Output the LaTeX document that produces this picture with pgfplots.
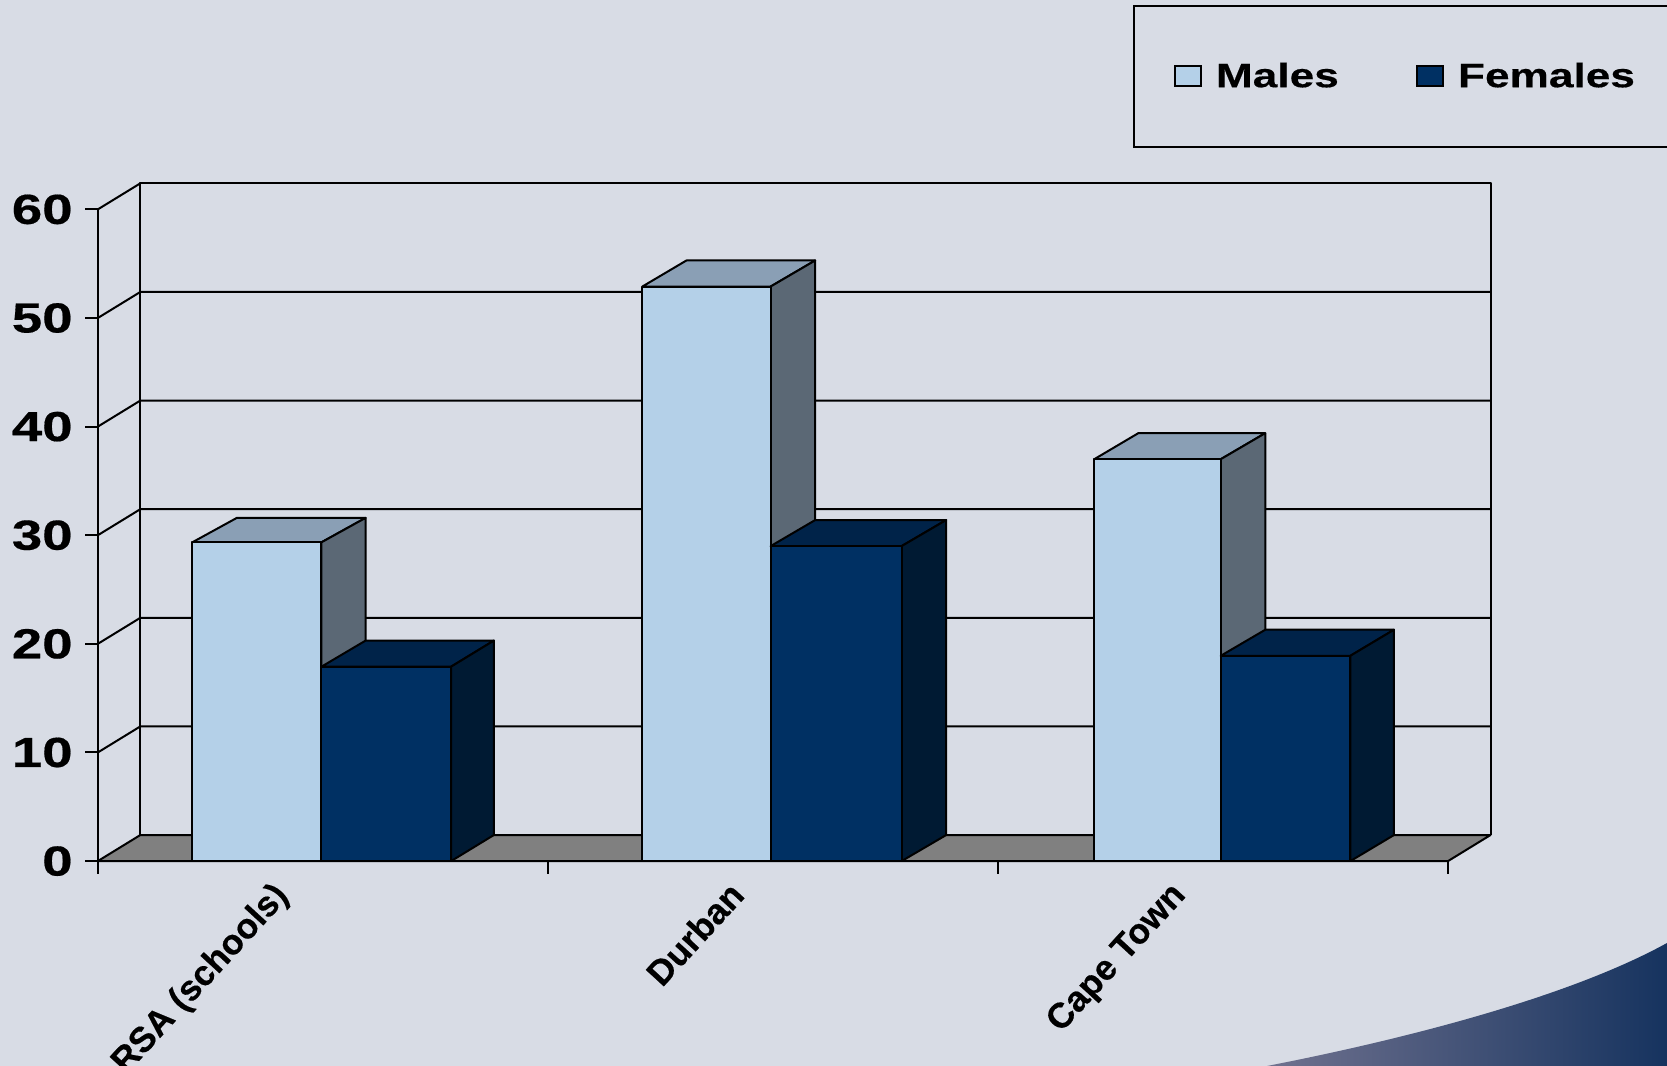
\documentclass[border=0pt]{standalone}
\usepackage{pgfplots}
\pgfplotsset{compat=1.18}
\usepackage{fontspec}
\setmainfont{Liberation Sans}
\newfontfamily\chartbold{Liberation Sans}[UprightFont={* Bold},FakeStretch=1.3,FakeBold=0.4]
\newfontfamily\catbold{Liberation Sans}[UprightFont={* Bold},FakeBold=0.4]

\definecolor{pagebg}{HTML}{D8DCE5}
\definecolor{malefront}{HTML}{B4D0E8}
\definecolor{maletop}{HTML}{8A9FB5}
\definecolor{maleside}{HTML}{5B6875}
\definecolor{femalefront}{HTML}{003063}
\definecolor{femaletop}{HTML}{002349}
\definecolor{femaleside}{HTML}{001A33}
\definecolor{floorgrey}{HTML}{808080}
\definecolor{swooshleft}{RGB}{112,114,143}
\definecolor{swooshright}{RGB}{22,51,95}

% A 3D column: left, right, left back, right back, value, value at the back,
% then the colours of the front, top and side faces.
\newcommand{\solidbar}[9]{
  \addplot[forget plot,mark=none,draw=black,fill=#8,line join=round]
    coordinates {(#1,#5) (#2,#5) (#4,#6) (#3,#6)} -- cycle;
  \addplot[forget plot,mark=none,draw=black,fill=#9,line join=round]
    coordinates {(#2,0) (#2,#5) (#4,#6) (#4,2.4)} -- cycle;
  \addplot[forget plot,mark=none,draw=black,fill=#7,line join=round]
    coordinates {(#1,0) (#2,0) (#2,#5) (#1,#5)} -- cycle;
}
% One gridline running up the side wall and along the back wall.
\newcommand{\wallline}[2]{
  \addplot[forget plot,mark=none,draw=black,line join=round]
    coordinates {(0,#1) (0.0945,#2) (3.0945,#2)};
}

\begin{document}
\begin{tikzpicture}[x=1pt,y=1pt]
\useasboundingbox (0,0) rectangle (833.5,533);
\clip (0,0) rectangle (833.5,533);
\fill[pagebg] (0,0) rectangle (833.5,533);
% corner swoosh
\shade[left color=swooshleft,right color=swooshright]
  (633.5,0) .. controls (690,11) and (780,32) .. (833.5,61.5) -- (833.5,0) -- cycle;

\begin{axis}[
  at={(48.9pt,102.45pt)}, anchor=south west,
  scale only axis,
  width=675.1pt, height=325.85pt,
  xmin=0, xmax=3, ymin=0, ymax=60,
  clip=false,
  axis on top,
  every axis plot/.append style={line width=1pt},
  axis line style={black,line width=1pt,-},
  axis y line*=left, axis x line*=bottom,
  tick align=outside,
  every tick/.style={black,line width=1pt},
  major tick length=6.4pt,
  xtick={0,1,2,3}, xticklabels={},
  extra x ticks={0.42,1.434,2.415},
  extra x tick labels={RSA (schools),Durban,Cape Town},
  extra x tick style={major tick length=0pt},
  x tick label style={font=\catbold\fontsize{17.7}{18}\selectfont,rotate=47.5,anchor=north east,
    xshift=-12pt,yshift=0pt,inner sep=0pt},
  ytick={0,10,20,30,40,50,60},
  y tick label style={font=\chartbold\fontsize{21}{20}\selectfont,inner xsep=1pt,xshift=-5pt},
  /pgf/number format/assume math mode=true,
  legend style={at={(0.7667,1.314)},anchor=north west,draw=black,line width=1pt,
    fill=none,inner xsep=20pt,inner ysep=26.4pt,
    font=\chartbold\fontsize{17}{18}\selectfont,
    /tikz/column 1/.style={column sep=5pt},
    /tikz/column 2/.style={column sep=36.6pt},
    /tikz/column 3/.style={column sep=5pt}},
  legend columns=2,
  legend image code/.code={
    \draw[line width=1pt,#1] (0pt,-5pt) rectangle (13pt,5pt);
  },
]
\addlegendimage{draw=black,fill=malefront}
\addlegendentry{Males}
\addlegendimage{draw=black,fill=femalefront}
\addlegendentry{Females\hspace{40pt}}

% floor
\addplot[forget plot,mark=none,draw=black,fill=floorgrey,line join=round]
  coordinates {(0,0) (0.0945,2.4) (3.0945,2.4) (3,0)} -- cycle;
% side and back walls
\addplot[forget plot,mark=none,draw=black,line join=round]
  coordinates {(0.0945,2.4) (0.0945,62.4) (3.0945,62.4) (3.0945,2.4)};
\addplot[forget plot,mark=none,draw=black] coordinates {(0,60) (0.0945,62.4)};
\wallline{10}{12.4}
\wallline{20}{22.4}
\wallline{30}{32.4}
\wallline{40}{42.4}
\wallline{50}{52.4}

% RSA (schools)
\solidbar{0.21}{0.497}{0.309}{0.595}{29.35}{31.6}{malefront}{maletop}{maleside}
\solidbar{0.497}{0.785}{0.595}{0.880}{17.9}{20.3}{femalefront}{femaletop}{femaleside}
% Durban
\solidbar{1.21}{1.495}{1.308}{1.594}{52.9}{55.3}{malefront}{maletop}{maleside}
\solidbar{1.495}{1.786}{1.594}{1.885}{29.0}{31.4}{femalefront}{femaletop}{femaleside}
% Cape Town
\solidbar{2.214}{2.495}{2.312}{2.594}{37.0}{39.4}{malefront}{maletop}{maleside}
\solidbar{2.495}{2.783}{2.594}{2.880}{18.9}{21.3}{femalefront}{femaletop}{femaleside}
\end{axis}
\end{tikzpicture}
\end{document}
